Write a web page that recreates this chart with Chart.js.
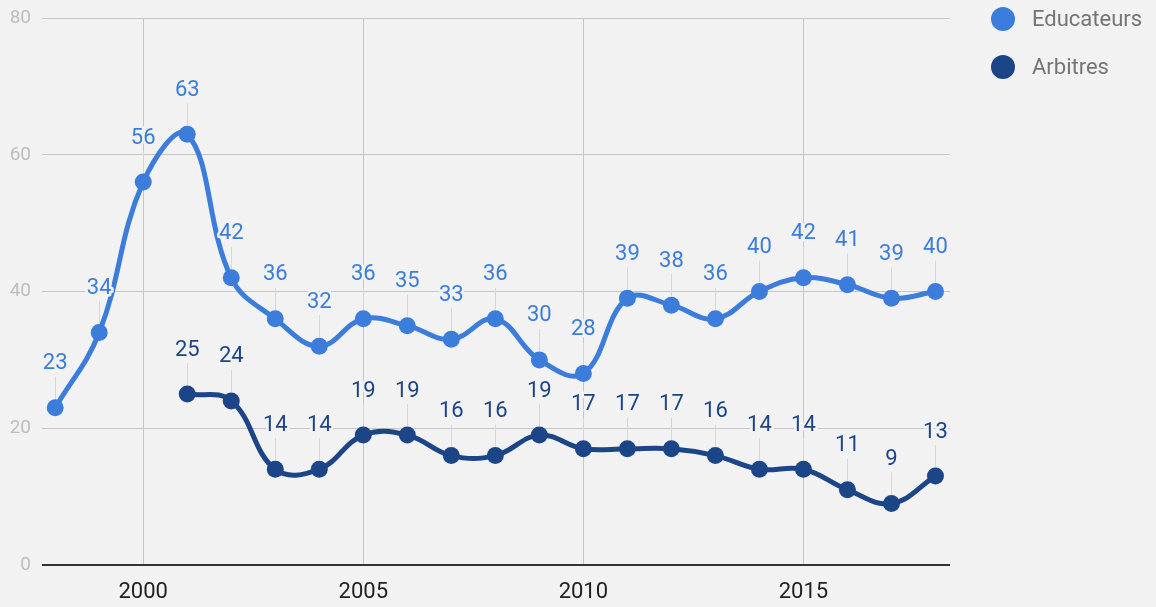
<!DOCTYPE html>
<html>
<head>
<meta charset="utf-8">
<script src="https://cdn.jsdelivr.net/npm/chart.js@4"></script>
<style>
html,body{margin:0;padding:0;background:#f2f2f2;}
#wrap{width:1156px;height:607px;position:relative;}
</style>
</head>
<body>
<div id="wrap"><canvas id="c" width="1156" height="607"></canvas></div>
<script>
const eduYears = [1998,1999,2000,2001,2002,2003,2004,2005,2006,2007,2008,2009,2010,2011,2012,2013,2014,2015,2016,2017,2018];
const eduValues = [23,34,56,63,42,36,32,36,35,33,36,30,28,39,38,36,40,42,41,39,40];
const arbYears = [2001,2002,2003,2004,2005,2006,2007,2008,2009,2010,2011,2012,2013,2014,2015,2016,2017,2018];
const arbValues = [25,24,14,14,19,19,16,16,19,17,17,17,16,14,14,11,9,13];
const seriesNames = ['Educateurs','Arbitres'];
const seriesColors = ['#3c7ddb','#1c4587'];
const xTickValues = [2000,2005,2010,2015];
const yTickValues = [0,20,40,60,80];

const FONT = 'Roboto, "Noto Sans", sans-serif';
const BG = '#f2f2f2';

const labelPlugin = {
  id: 'labels',
  afterDatasetsDraw(chart) {
    const ctx = chart.ctx;
    ctx.save();
    chart.data.datasets.forEach((ds, di) => {
      const meta = chart.getDatasetMeta(di);
      meta.data.forEach((pt, i) => {
        const v = ds.data[i].y;
        const x = pt.x, y = pt.y;
        const ly = y - 44;
        ctx.strokeStyle = '#d6d6d6';
        ctx.lineWidth = 1;
        ctx.beginPath();
        ctx.moveTo(Math.round(x)+0.5, ly + 13);
        ctx.lineTo(Math.round(x)+0.5, y - 9);
        ctx.stroke();
        ctx.font = '22px ' + FONT;
        ctx.textAlign = 'center';
        ctx.textBaseline = 'middle';
        ctx.lineJoin = 'round';
        ctx.strokeStyle = BG;
        ctx.lineWidth = 5;
        ctx.strokeText(String(v), x, ly);
        ctx.fillStyle = ds.borderColor;
        ctx.fillText(String(v), x, ly);
      });
    });
    ctx.restore();
  },
  afterDraw(chart) {
    const ctx = chart.ctx;
    ctx.save();
    chart.data.datasets.forEach((ds, di) => {
      const cy = 19 + di * 48;
      ctx.fillStyle = ds.borderColor;
      ctx.beginPath();
      ctx.arc(1003, cy, 12, 0, Math.PI * 2);
      ctx.fill();
      ctx.fillStyle = '#757575';
      ctx.font = '22px ' + FONT;
      ctx.textAlign = 'left';
      ctx.textBaseline = 'middle';
      ctx.fillText(ds.label, 1032, cy + 1);
    });
    ctx.restore();
  }
};

const mk = (years, vals) => years.map((y, i) => ({x: y, y: vals[i]}));

new Chart(document.getElementById('c'), {
  type: 'line',
  data: {
    datasets: [
      {label: seriesNames[0], data: mk(eduYears, eduValues), borderColor: seriesColors[0], backgroundColor: seriesColors[0]},
      {label: seriesNames[1], data: mk(arbYears, arbValues), borderColor: seriesColors[1], backgroundColor: seriesColors[1]}
    ]
  },
  options: {
    responsive: false,
    animation: false,
    devicePixelRatio: 1,
    layout: {padding: {top: 18, right: 206, left: 0, bottom: 0}},
    elements: {
      line: {borderWidth: 5, tension: 0.4, cubicInterpolationMode: 'default'},
      point: {radius: 8.5, hoverRadius: 8.5, borderWidth: 0}
    },
    plugins: {legend: {display: false}, tooltip: {enabled: false}},
    scales: {
      x: {
        type: 'linear',
        min: 1997.7,
        max: 2018.33,
        afterBuildTicks: s => { s.ticks = xTickValues.map(v => ({value: v})); },
        afterFit: s => { s.height = 42; s.paddingLeft = 0; s.paddingRight = 0; },
        border: {display: false},
        grid: {color: '#c6c6c6', lineWidth: 1, drawTicks: false},
        ticks: {padding: 14, color: '#222', font: {family: FONT, size: 22}, callback: v => String(v), maxRotation: 0, autoSkip: false}
      },
      y: {
        min: 0,
        max: 80,
        afterBuildTicks: s => { s.ticks = yTickValues.map(v => ({value: v})); },
        afterFit: s => { s.width = 42; s.paddingTop = 0; s.paddingBottom = 0; },
        border: {display: false},
        grid: {
          drawTicks: false,
          color: c => c.tick && c.tick.value === 0 ? '#333' : '#c6c6c6',
          lineWidth: c => c.tick && c.tick.value === 0 ? 2 : 1
        },
        ticks: {padding: 11, color: '#bdbdbd', font: {family: FONT, size: 19}}
      }
    }
  },
  plugins: [labelPlugin]
});
</script>
</body>
</html>
